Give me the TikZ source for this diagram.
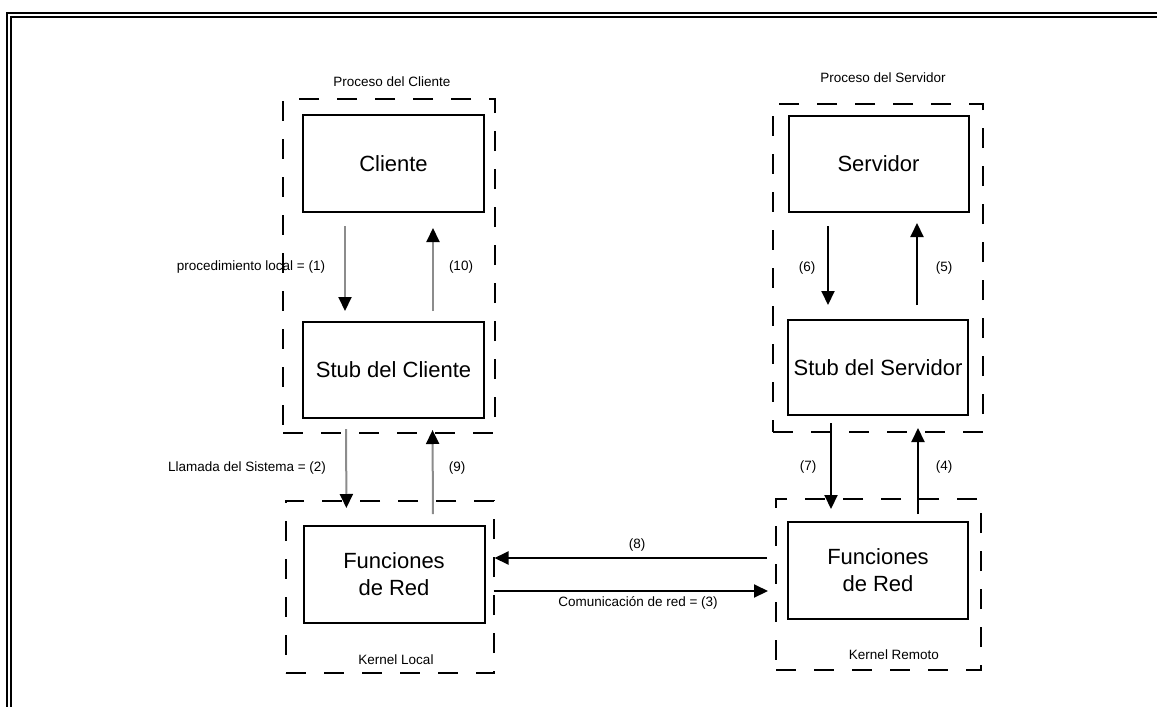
\documentclass[tikz,border=0pt]{standalone}
\usepackage{fontspec}
\setmainfont{Liberation Sans}
\usetikzlibrary{arrows.meta}

\tikzset{
  box/.style={draw, line width=2pt, minimum width=#1, inner sep=0pt,
              font=\fontsize{22}{27}\selectfont, align=center},
  group/.style={draw, line width=2pt, dash pattern=on 20pt off 18pt, inner sep=0pt},
  lbl/.style={font=\fontsize{13.5}{15}\selectfont, inner sep=0pt},
  arr/.style={line width=2pt, -{Triangle[length=14pt,width=13pt]}},
  garr/.style={line width=2pt, draw=black!45, -{Triangle[length=14pt,width=13pt,color=black]}},
  frame/.style={line width=2pt}
}

\begin{document}
\begin{tikzpicture}[x=1pt, y=-1pt]
\useasboundingbox (0,0) rectangle (1157,707);

% double page frame
\draw[frame] (7,707) -- (7,13) -- (1157,13);
\draw[frame] (11,707) -- (11,16.5) -- (1157,16.5);

% process and kernel groups
\node[group, minimum width=212pt, minimum height=334pt] (pcli) at (389,266) {};
\node[group, minimum width=208pt, minimum height=172pt] (klocal) at (390,587) {};
\node[group, minimum width=210pt, minimum height=328pt] (pserv) at (878,268) {};
\node[group, minimum width=205pt, minimum height=171pt] (kremoto) at (878.5,584.5) {};

% components
\node[box=181pt, minimum height=97pt] (cliente) at (393.5,163.5) {Cliente};
\node[box=181pt, minimum height=96pt] (stubc) at (393.5,370) {Stub del Cliente};
\node[box=181pt, minimum height=97pt] (funcl) at (394,574.5) {Funciones\\de Red};
\node[box=180pt, minimum height=96pt] (servidor) at (878.5,164) {Servidor};
\node[box=180pt, minimum height=95pt] (stubs) at (878,367.5) {Stub del Servidor};
\node[box=180pt, minimum height=97pt] (funcr) at (878,570.5) {Funciones\\de Red};

% group titles
\node[lbl] (tcli) at (392,82) {Proceso del Cliente};
\node[lbl] (tserv) at (883,78) {Proceso del Servidor};
\node[lbl] (tkl) at (396,660) {Kernel Local};
\node[lbl] (tkr) at (894,655) {Kernel Remoto};

% client side calls
\draw[garr, shorten <=13pt, shorten >=10pt] ([xshift=-48.5pt]cliente.south) -- ([xshift=-48.5pt]stubc.north);
\draw[garr, shorten <=10pt, shorten >=15pt] ([xshift=39.5pt]stubc.north) -- ([xshift=39.5pt]cliente.south);
\draw[garr, shorten <=10pt, shorten >=17pt] ([xshift=-47.5pt]stubc.south) -- ([xshift=-47.5pt]funcl.north);
\draw[garr, shorten <=11pt, shorten >=11pt] ([xshift=39pt]funcl.north) -- ([xshift=39pt]stubc.south);

% server side calls
\draw[arr, shorten <=13pt, shorten >=14pt] ([xshift=-50.5pt]servidor.south) -- ([xshift=-50pt]stubs.north);
\draw[arr, shorten <=14pt, shorten >=10pt] ([xshift=39pt]stubs.north) -- ([xshift=38.5pt]servidor.south);
\draw[arr, shorten <=7pt, shorten >=12pt] ([xshift=-47pt]stubs.south) -- ([xshift=-47pt]funcr.north);
\draw[arr, shorten <=7pt, shorten >=12pt] ([xshift=40pt]funcr.north) -- ([xshift=40pt]stubs.south);

% network messages
\draw[arr, shorten <=20pt, shorten >=9pt] (funcr.west |- 0,558) -- (funcl.east |- 0,558);
\draw[arr, shorten <=8pt, shorten >=19pt] (funcl.east |- 0,591) -- (funcr.west |- 0,591);

% arrow labels
\node[lbl] (l1) at (251,267) {procedimiento local = (1)};
\node[lbl] (l10) at (461,267) {(10)};
\node[lbl] (l2) at (247,468) {Llamada del Sistema = (2)};
\node[lbl] (l9) at (457,468) {(9)};
\node[lbl] (l6) at (807,268) {(6)};
\node[lbl] (l5) at (944,268) {(5)};
\node[lbl] (l7) at (808,467) {(7)};
\node[lbl] (l4) at (944,467) {(4)};
\node[lbl] (l8) at (637,545) {(8)};
\node[lbl] (l3) at (638,603) {Comunicación de red = (3)};
\end{tikzpicture}
\end{document}
